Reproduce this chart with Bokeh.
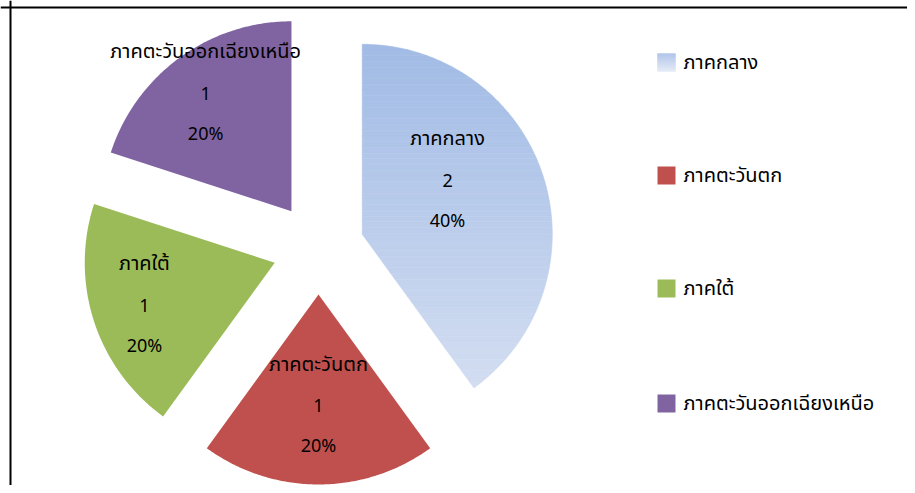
import numpy as np
from bokeh.plotting import figure
from bokeh.models import Range1d, Span
from bokeh.core.properties import value
from bokeh.embed import file_html
from bokeh.resources import INLINE

# ---- data ----
regions = ["ภาคกลาง", "ภาคตะวันตก", "ภาคใต้", "ภาคตะวันออกเฉียงเหนือ"]
counts = [2, 1, 1, 1]

# ---- styles ----
solid_colors = ["#b5c8ea", "#c0504d", "#9bbb59", "#8064a2"]
grad_top, grad_bottom = "#a1bbe5", "#d2ddf1"
legend_top, legend_bottom = "#a6bde8", "#e0e7f5"
FONT = "Tahoma, 'Noto Sans Thai', 'Noto Sans', 'DejaVu Sans', sans-serif"

# layout (screen pixel coordinates)
cx, cy = 318.0, 248.0
R = 190.0
explode = 46.0
label_angle = [57.6, None, None, None]   # None -> bisector
label_radius = [101, 111, 137, 146]
line_gap = 41
legend_x = 666
legend_y = [62, 175, 288, 403]
legend_size = 18

W, H = 907, 485
p = figure(width=W, height=H, output_backend="svg", toolbar_location=None,
           x_range=Range1d(0, 907), y_range=Range1d(485, 0),
           x_axis_type=None, y_axis_type=None, min_border=0)
p.grid.visible = False
p.outline_line_color = None
p.background_fill_color = "white"
p.border_fill_color = "white"


def hex2rgb(h):
    h = h.lstrip("#")
    return np.array([int(h[i:i + 2], 16) for i in (0, 2, 4)], float)


def mix(c1, c2, t):
    c = hex2rgb(c1) * (1 - t) + hex2rgb(c2) * t
    return "#%02x%02x%02x" % tuple(int(round(v)) for v in c)


def dirv(theta_deg):
    t = np.radians(theta_deg)
    return np.sin(t), -np.cos(t)


def clip(poly, y0, keep_greater):
    out = []
    n = len(poly)
    for i in range(n):
        a = poly[i]
        b = poly[(i + 1) % n]
        ina = a[1] >= y0 if keep_greater else a[1] <= y0
        inb = b[1] >= y0 if keep_greater else b[1] <= y0
        if ina:
            out.append(a)
        if ina != inb:
            t = (y0 - a[1]) / (b[1] - a[1])
            out.append((a[0] + t * (b[0] - a[0]), y0))
    return out


total = float(sum(counts))
cum = 0.0
for i, (name, c) in enumerate(zip(regions, counts)):
    a0 = cum / total * 360.0
    a1 = (cum + c) / total * 360.0
    cum += c
    mid = (a0 + a1) / 2
    dx, dy = dirv(mid)
    ax, ay = cx + explode * dx, cy + explode * dy
    th = np.linspace(a0, a1, 120)
    xs = [ax] + list(ax + R * np.sin(np.radians(th)))
    ys = [ay] + list(ay - R * np.cos(np.radians(th)))
    if i == 0:
        poly = list(zip(xs, ys))
        ymin, ymax = min(ys), max(ys)
        nb = 60
        edges = np.linspace(ymin, ymax, nb + 1)
        bx, by, bc = [], [], []
        for k in range(nb):
            part = clip(poly, edges[k], True)
            if len(part) < 3:
                continue
            part = clip(part, edges[k + 1], False)
            if len(part) < 3:
                continue
            bx.append([q[0] for q in part])
            by.append([q[1] for q in part])
            bc.append(mix(grad_top, grad_bottom, k / (nb - 1)))
        p.patches(bx, by, fill_color=bc, line_color=bc, line_width=0.6)
    else:
        p.patch(xs, ys, fill_color=solid_colors[i], line_color=None)

    la = label_angle[i] if label_angle[i] is not None else mid
    ldx, ldy = dirv(la)
    lx, ly = ax + label_radius[i] * ldx, ay + label_radius[i] * ldy
    pct = "%d%%" % round(100 * c / total)
    p.text([lx], [ly - line_gap], text=[name], text_align="center",
           text_baseline="middle", text_font=value(FONT),
           text_font_size="20px", text_color="#000000")
    p.text([lx, lx], [ly, ly + line_gap], text=[str(c), pct],
           text_align="center", text_baseline="middle",
           text_font=value(FONT), text_font_size="18px",
           text_color="#000000")

# legend
for i, name in enumerate(regions):
    yc = legend_y[i]
    if i == 0:
        n = legend_size
        ys = [yc - legend_size / 2 + k + 0.5 for k in range(n)]
        cs = [mix(legend_top, legend_bottom, k / (n - 1)) for k in range(n)]
        p.rect([legend_x] * n, ys, width=legend_size, height=1.0,
               fill_color=cs, line_color=cs, line_width=0.3)
    else:
        p.rect([legend_x], [yc], width=legend_size, height=legend_size,
               fill_color=solid_colors[i], line_color=None)
    p.text([legend_x + 17], [yc], text=[name], text_align="left",
           text_baseline="middle", text_font=value(FONT),
           text_font_size="20px", text_color="#000000")

# chart frame (left and top edges visible)
p.add_layout(Span(location=10, dimension="height", line_color="black", line_width=2))
p.add_layout(Span(location=7, dimension="width", line_color="black", line_width=2))

open("out.html", "w").write(file_html(p, INLINE))
